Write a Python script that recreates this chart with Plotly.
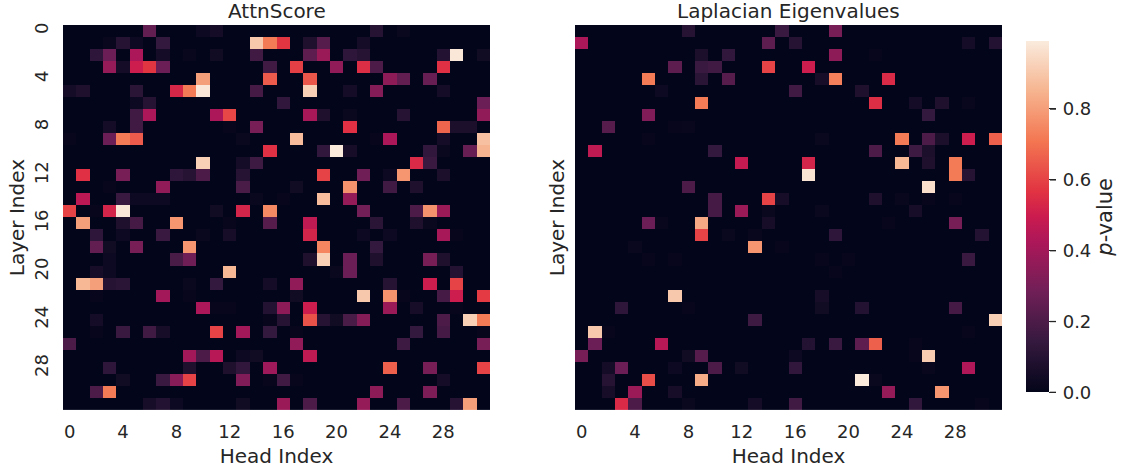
import plotly.graph_objects as go

N_HEADS = 32
N_LAYERS = 32
tick_vals = [0, 4, 8, 12, 16, 20, 24, 28]
titles = ["AttnScore", "Laplacian Eigenvalues"]
cbar_ticks = [0.0, 0.2, 0.4, 0.6, 0.8]

# (layer, {head: p-value}) ; every cell not listed is about 0
attn_cells = {
 0: {6:.25,10:.03,11:.05,23:.1,25:.02},
 1: {3:.015,4:.1,5:.03,7:.14,14:.9,15:.72,16:.57,18:.08,19:.22,22:.05},
 2: {2:.12,3:.27,5:.42,7:.05,9:.015,11:.04,14:.17,18:.24,19:.38,21:.12,22:.1,28:.09,29:.98,31:.04},
 3: {3:.37,4:.05,5:.5,6:.57,7:.27,15:.17,17:.59,20:.36,22:.55,23:.2,28:.56},
 4: {10:.8,15:.65,18:.64,24:.35,25:.25,27:.26},
 5: {0:.05,1:.08,5:.11,8:.53,9:.72,10:.98,14:.18,18:.92,21:.05,23:.33,28:.05},
 6: {5:.03,6:.1,16:.13,31:.27},
 7: {5:.17,6:.42,11:.42,12:.61,18:.41,19:.08,21:.02,25:.1,31:.36},
 8: {3:.05,5:.17,12:.01,14:.3,21:.56,28:.67,29:.07,30:.07},
 9: {0:.01,3:.27,4:.72,5:.65,13:.02,17:.87,23:.01,24:.42,28:.05,31:.88},
 10: {15:.56,19:.13,20:.99,21:.06,27:.13,28:.02,30:.26,31:.85},
 11: {10:.92,13:.05,14:.16,26:.54,27:.15},
 12: {1:.56,4:.3,8:.12,9:.1,10:.2,13:.1,19:.6,22:.28,24:.03,25:.78,28:.07},
 13: {3:.01,7:.36,13:.19,17:.04,21:.77,24:.17,26:.08},
 14: {1:.46,4:.15,5:.03,6:.03,7:.03,14:.02,16:.01,19:.87,21:.37},
 15: {0:.6,2:.01,3:.52,4:.98,11:.04,13:.52,15:.75,22:.29,26:.2,27:.77,28:.38},
 16: {1:.8,4:.08,5:.18,8:.78,12:.01,15:.22,18:.47,23:.11,26:.08,27:.02},
 17: {2:.12,4:.03,7:.15,10:.02,12:.06,18:.52,22:.03,24:.03,28:.41,29:.01},
 18: {2:.25,3:.04,5:.3,9:.78,19:.74,23:.14},
 19: {3:.03,8:.19,9:.28,18:.08,19:.92,21:.27,23:.08,27:.3,28:.08},
 20: {2:.06,3:.03,12:.86,20:.02,21:.27,29:.09},
 21: {1:.86,2:.8,3:.1,4:.11,9:.02,11:.14,15:.05,17:.36,24:.1,27:.5,29:.6},
 22: {2:.01,7:.4,9:.01,17:.04,22:.9,24:.77,25:.01,28:.18,29:.5,31:.58},
 23: {10:.42,11:.01,12:.01,15:.09,16:.35,18:.5,24:.38,26:.06,29:.01},
 24: {2:.05,15:.01,16:.1,18:.63,19:.1,20:.04,21:.19,22:.33,28:.2,30:.92,31:.72},
 25: {2:.01,4:.15,6:.17,7:.06,11:.6,13:.4,15:.14,17:.01,26:.14,28:.18,31:.01},
 26: {0:.2,17:.36,25:.16,31:.3},
 27: {9:.4,10:.2,11:.45,13:.03,14:.04,18:.47},
 28: {3:.12,9:.08,12:.08,13:.13,15:.39,24:.66,27:.3,31:.6},
 29: {4:.04,7:.15,8:.34,9:.6,13:.32,15:.01,16:.17,17:.01,28:.05},
 30: {2:.2,3:.72,23:.35,27:.31},
 31: {6:.06,7:.09,8:.03,13:.04,16:.38,18:.2,22:.37,25:.2,29:.1,30:.8},
}

laplacian_cells = {
 0: {8:.1,15:.15,19:.3},
 1: {0:.42,14:.24,16:.1,29:.05,31:.09},
 2: {9:.07,11:.13,19:.35,22:.01},
 3: {7:.24,9:.15,10:.17,14:.6,17:.5},
 4: {5:.72,9:.11,11:.22,18:.06,19:.73,23:.54},
 5: {6:.03,16:.17,21:.08},
 6: {9:.72,22:.55,25:.05,27:.08,29:.015},
 7: {5:.32,26:.14},
 8: {2:.22,7:.01,8:.015},
 9: {5:.01,18:.02,24:.72,26:.2,27:.07,29:.5,31:.66},
 10: {1:.47,10:.14,22:.2,25:.16,26:.07},
 11: {12:.48,17:.52,24:.86,26:.08,28:.72},
 12: {17:.97,28:.72,29:.1},
 13: {8:.2,26:.96},
 14: {10:.18,14:.6,15:.06,22:.08,24:.015,26:.01,28:.01},
 15: {10:.18,12:.38,14:.02,18:.02,25:.06},
 16: {5:.27,6:.015,9:.82,14:.06,23:.01,28:.3},
 17: {9:.6,11:.02,13:.015,19:.12,30:.09},
 18: {4:.02,13:.78,15:.01},
 19: {5:.01,7:.01,18:.01,20:.01,29:.15},
 20: {19:.01},
 22: {7:.9,18:.06},
 23: {3:.12,8:.01,18:.04,21:.09,28:.18},
 24: {13:.16,31:.92},
 25: {1:.9,2:.01,29:.01},
 26: {1:.27,6:.45,17:.09,19:.15,21:.24,22:.66,25:.01},
 27: {0:.3,8:.04,9:.22,16:.03,25:.01,26:.91},
 28: {2:.05,3:.27,7:.03,10:.2,12:.04,16:.13,26:.015,29:.43},
 29: {2:.1,5:.62,9:.83,21:.99,22:.02},
 30: {2:.06,4:.38,7:.06,23:.37,27:.78},
 31: {3:.54,4:.2,8:.02,13:.05,16:.17,25:.13,30:.01},
}

rocket = [[0.0,"#03051a"],[0.143,"#35193e"],[0.286,"#701f57"],[0.429,"#ad1759"],
          [0.5,"#cb1b4f"],[0.571,"#e13342"],[0.714,"#f37651"],[0.857,"#f6b48f"],[1.0,"#faebdd"]]

def matrix(cells):
    return [[cells.get(r, {}).get(c, 0.0) for c in range(N_HEADS)] for r in range(N_LAYERS)]

W, H = 1130, 472
TXT = "#262626"
FONT = "DejaVu Sans"
ZMAX = 0.99
CB_TOP, CB_BOTTOM = 40, 392

fig = go.Figure()
for i, cells in enumerate([attn_cells, laplacian_cells]):
    fig.add_trace(go.Heatmap(z=matrix(cells), xaxis=f"x{i+1}", yaxis=f"y{i+1}",
                             coloraxis="coloraxis", x=list(range(N_HEADS)), y=list(range(N_LAYERS))))

y_dom = [1 - 410/H, 1 - 23/H]
xax = dict(tickmode="array", tickvals=tick_vals, ticks="", showgrid=False, zeroline=False,
           range=[-0.5, 31.5], tickfont=dict(size=18, color=TXT), ticklen=0, ticklabelstandoff=9,
           title=dict(text="Head Index", font=dict(size=20, color=TXT), standoff=7))
yax = dict(tickmode="array", tickvals=tick_vals, ticks="", showgrid=False, zeroline=False,
           range=[31.5, -0.5], tickangle=-90, tickfont=dict(size=18, color=TXT), ticklabelstandoff=10,
           title=dict(text="Layer Index", font=dict(size=20, color=TXT), standoff=1))
yax2 = dict(yax, showticklabels=False, title=dict(text="Layer Index", font=dict(size=20, color=TXT), standoff=3))

tick_shapes = [
    dict(type="line", xref="paper", yref="paper", x0=1050/W, x1=1056/W,
         y0=1 - (CB_BOTTOM - v/ZMAX*(CB_BOTTOM - CB_TOP))/H,
         y1=1 - (CB_BOTTOM - v/ZMAX*(CB_BOTTOM - CB_TOP))/H,
         line=dict(color=TXT, width=1.3))
    for v in cbar_ticks
]

fig.update_layout(
    width=W, height=H, autosize=False,
    margin=dict(l=0, r=0, t=0, b=0),
    paper_bgcolor="white", plot_bgcolor="white",
    font=dict(family=FONT, color=TXT),
    xaxis=dict(xax, domain=[63/W, 490/W], anchor="y"),
    yaxis=dict(yax, domain=y_dom, anchor="x"),
    xaxis2=dict(xax, domain=[575/W, 1002/W], anchor="y2"),
    yaxis2=dict(yax2, domain=y_dom, anchor="x2"),
    shapes=tick_shapes,
    coloraxis=dict(
        colorscale=rocket, cmin=0, cmax=ZMAX,
        colorbar=dict(
            thickness=23, thicknessmode="pixels",
            len=(CB_BOTTOM - CB_TOP)/H, lenmode="fraction", x=1026/W, xanchor="left", xpad=0,
            y=1 - CB_BOTTOM/H, yanchor="bottom", ypad=0, outlinewidth=0,
            tickmode="array", tickvals=cbar_ticks,
            ticktext=["\u20090.0", "\u20090.2", "\u20090.4", "\u20090.6", "\u20090.8"],
            ticks="outside", ticklen=7, tickwidth=1, tickcolor=TXT,
            tickfont=dict(size=18, color=TXT),
            title=dict(text="<i>p</i>-value", side="right", font=dict(size=21, color=TXT)),
        ),
    ),
    annotations=[
        dict(text=titles[0], xref="paper", yref="paper", x=276.5/W, y=1 - 9.5/H, xanchor="center",
             yanchor="middle", showarrow=False, font=dict(size=20, color=TXT)),
        dict(text=titles[1], xref="paper", yref="paper", x=788.5/W, y=1 - 9.5/H, xanchor="center",
             yanchor="middle", showarrow=False, font=dict(size=20, color=TXT)),
    ],
)
fig.write_html("out.html", config={"displayModeBar": False},
               post_script="document.body.style.margin='0';document.documentElement.style.overflow='hidden';")
